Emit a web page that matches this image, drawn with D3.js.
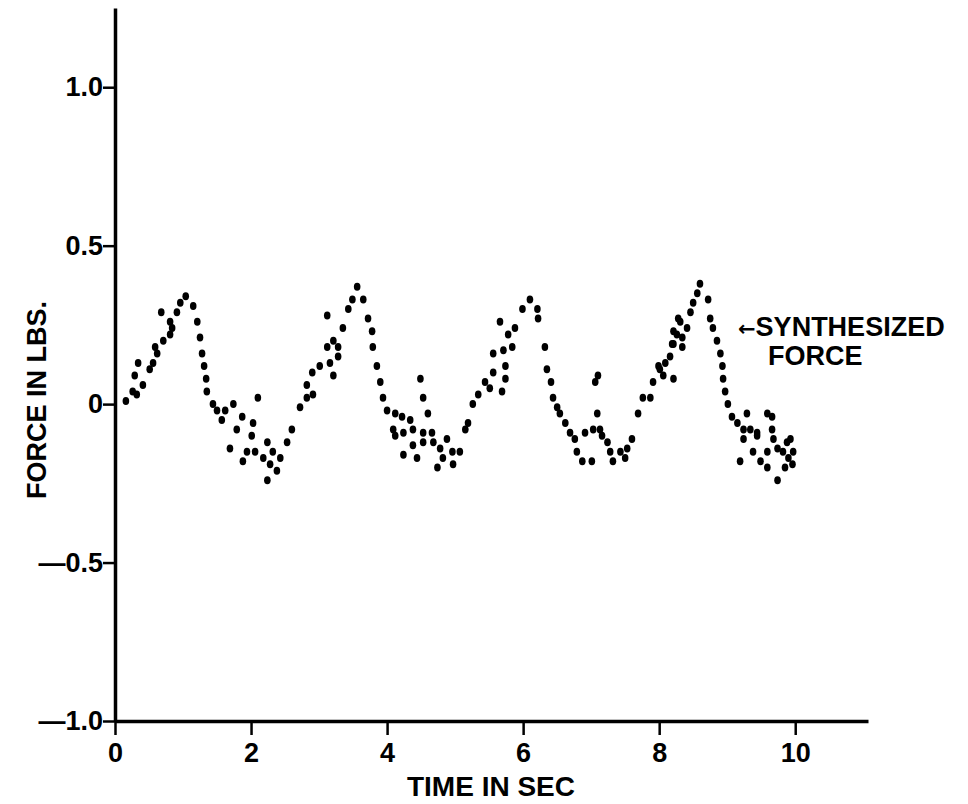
<!DOCTYPE html>
<html>
<head>
<meta charset="utf-8">
<script src="https://cdn.jsdelivr.net/npm/d3@7"></script>
<style>
  body { margin: 0; background: #fff; }
  svg { display: block; }
  text { font-family: "Liberation Sans", Arial, sans-serif; font-weight: bold; fill: #000; }
</style>
</head>
<body>
<div id="chart"></div>
<script>
// time (s) and force (lbs) of each plotted dot
const time = [
  0.16, 0.26, 0.32, 0.29, 0.41, 0.34, 0.51, 0.56, 0.59, 0.62, 0.71, 0.81, 0.84, 0.68, 0.81, 0.91, 0.96, 1.04,
  1.15, 1.21, 1.25, 1.28, 1.31, 1.34, 1.35, 1.44, 1.50, 1.57, 1.62, 1.74, 1.69, 1.79, 1.87, 1.94, 2.03, 2.10,
  2.01, 1.88, 2.06, 2.18, 2.24, 2.28, 2.32, 2.24, 2.38, 2.43, 2.53, 2.60, 2.72, 2.82, 2.91, 2.82, 2.90, 3.01,
  3.16, 3.21, 3.28, 3.12, 3.21, 3.28, 3.12, 3.35, 3.43, 3.49, 3.56, 3.65, 3.72, 3.78, 3.79, 3.85, 3.90, 3.94,
  4.00, 4.09, 4.12, 4.12, 4.22, 4.34, 4.24, 4.38, 4.53, 4.66, 4.38, 4.53, 4.68, 4.78, 4.88, 4.96, 4.97, 4.82,
  4.74, 4.44, 4.24, 4.60, 4.53, 4.49, 5.07, 5.15, 5.19, 5.26, 5.34, 5.44, 5.51, 5.56, 5.74, 5.69, 5.74, 5.56,
  5.71, 5.84, 5.78, 5.88, 5.66, 5.99, 6.10, 6.21, 6.22, 6.32, 6.35, 6.41, 6.44, 6.50, 6.54, 6.62, 6.69, 6.76,
  6.79, 6.87, 7.01, 6.91, 7.03, 7.13, 7.09, 7.06, 7.10, 7.16, 7.24, 7.28, 7.32, 7.43, 7.53, 7.50, 7.60, 7.69,
  7.76, 7.87, 7.91, 7.99, 8.06, 8.21, 8.16, 8.21, 8.26, 8.28, 8.01, 8.09, 8.34, 8.19, 8.34, 8.21, 8.41, 8.31,
  8.46, 8.50, 8.56, 8.60, 8.72, 8.75, 8.79, 8.85, 8.90, 8.93, 8.94, 8.97, 9.01, 9.07, 9.15, 9.24, 9.34, 9.44,
  9.29, 9.59, 9.66, 9.66, 9.68, 9.74, 9.82, 9.90, 9.96, 9.85, 9.74, 9.59, 9.49, 9.59, 9.38, 9.24, 9.19, 9.44,
  9.88, 9.97, 9.93
];
const force = [
  0.01, 0.04, 0.03, 0.09, 0.06, 0.13, 0.11, 0.13, 0.18, 0.16, 0.20, 0.22, 0.24, 0.29, 0.26, 0.29, 0.32, 0.34,
  0.31, 0.26, 0.21, 0.16, 0.12, 0.08, 0.04, 0.00, -0.02, -0.05, -0.02, 0.00, -0.14, -0.08, -0.04, -0.15, -0.06, 0.02,
  -0.10, -0.18, -0.15, -0.17, -0.12, -0.19, -0.15, -0.24, -0.21, -0.17, -0.12, -0.08, -0.01, 0.02, 0.03, 0.06, 0.10, 0.12,
  0.13, 0.09, 0.15, 0.18, 0.20, 0.18, 0.28, 0.24, 0.30, 0.33, 0.37, 0.33, 0.27, 0.23, 0.18, 0.12, 0.07, 0.02,
  -0.02, -0.08, -0.10, -0.03, -0.04, -0.05, -0.09, -0.08, -0.09, -0.09, -0.13, -0.12, -0.12, -0.14, -0.11, -0.15, -0.19, -0.17,
  -0.20, -0.17, -0.16, -0.03, 0.02, 0.08, -0.15, -0.08, -0.06, 0.00, 0.03, 0.07, 0.05, 0.10, 0.12, 0.04, 0.08, 0.16,
  0.17, 0.18, 0.22, 0.24, 0.26, 0.30, 0.33, 0.30, 0.27, 0.18, 0.11, 0.07, 0.02, -0.01, -0.03, -0.06, -0.09, -0.11,
  -0.15, -0.18, -0.18, -0.09, -0.08, -0.08, -0.03, 0.07, 0.09, -0.10, -0.12, -0.15, -0.18, -0.15, -0.14, -0.17, -0.11, -0.03,
  0.02, 0.02, 0.07, 0.12, 0.09, 0.08, 0.15, 0.19, 0.22, 0.27, 0.11, 0.13, 0.18, 0.19, 0.21, 0.23, 0.24, 0.26,
  0.29, 0.32, 0.35, 0.38, 0.33, 0.27, 0.24, 0.20, 0.16, 0.12, 0.08, 0.04, 0.00, -0.04, -0.06, -0.08, -0.08, -0.09,
  -0.03, -0.03, -0.04, -0.08, -0.11, -0.14, -0.15, -0.17, -0.19, -0.20, -0.24, -0.20, -0.18, -0.15, -0.15, -0.11, -0.18, -0.10,
  -0.12, -0.15, -0.11
];

const xTicks = [0, 2, 4, 6, 8, 10];
const yTicks = [1.0, 0.5, 0, -0.5, -1.0];
const yTickLabels = ["1.0", "0.5", "0", "\u20140.5", "\u20141.0"];

const points = time.map((t, i) => ({ t: t, f: force[i] }));

const width = 968;
const height = 804;

const x = d3.scaleLinear().domain([0, 11.07]).range([115, 868]);
const y = d3.scaleLinear().domain([-1, 1.25]).range([721, 8]);

const svg = d3.select("#chart")
  .append("svg")
  .attr("width", width)
  .attr("height", height);

// axes
const xAxis = svg.append("g")
  .attr("transform", `translate(0, ${y(-1)})`)
  .call(d3.axisBottom(x).tickValues(xTicks).tickFormat(d3.format("d"))
    .tickSize(14).tickSizeOuter(0).tickPadding(8));

const yAxis = svg.append("g")
  .attr("transform", `translate(${x(0)}, 0)`)
  .call(d3.axisLeft(y).tickValues(yTicks).tickFormat((d, i) => yTickLabels[i])
    .tickSize(12).tickSizeOuter(0).tickPadding(0));

[xAxis, yAxis].forEach(g => {
  g.attr("font-family", null).attr("font-size", null);
  g.select(".domain").attr("stroke", "#000").attr("stroke-width", 3.5);
  g.selectAll(".tick line").attr("stroke", "#000").attr("stroke-width", 2.5);
  g.selectAll(".tick text").style("font-size", "27px");
});

// dots
svg.append("g")
  .selectAll("ellipse")
  .data(points)
  .enter()
  .append("ellipse")
  .attr("cx", d => x(d.t))
  .attr("cy", d => y(d.f))
  .attr("rx", 3.3)
  .attr("ry", 4)
  .attr("fill", "#000");

// axis titles
svg.append("text")
  .attr("x", 491)
  .attr("y", 796)
  .attr("text-anchor", "middle")
  .style("font-size", "28px")
  .text("TIME IN SEC");

svg.append("text")
  .attr("transform", "translate(46, 400) rotate(-90)")
  .attr("text-anchor", "middle")
  .style("font-size", "27px")
  .text("FORCE IN LBS.");

// annotation
const note = svg.append("text")
  .attr("x", 738)
  .attr("y", 336)
  .style("font-size", "27px");
note.append("tspan")
  .style("font-family", "'DejaVu Sans', sans-serif")
  .style("font-size", "21px")
  .text("\u2190");
note.append("tspan").text("SYNTHESIZED");

svg.append("text")
  .attr("x", 768)
  .attr("y", 365)
  .style("font-size", "27px")
  .text("FORCE");
</script>
</body>
</html>
